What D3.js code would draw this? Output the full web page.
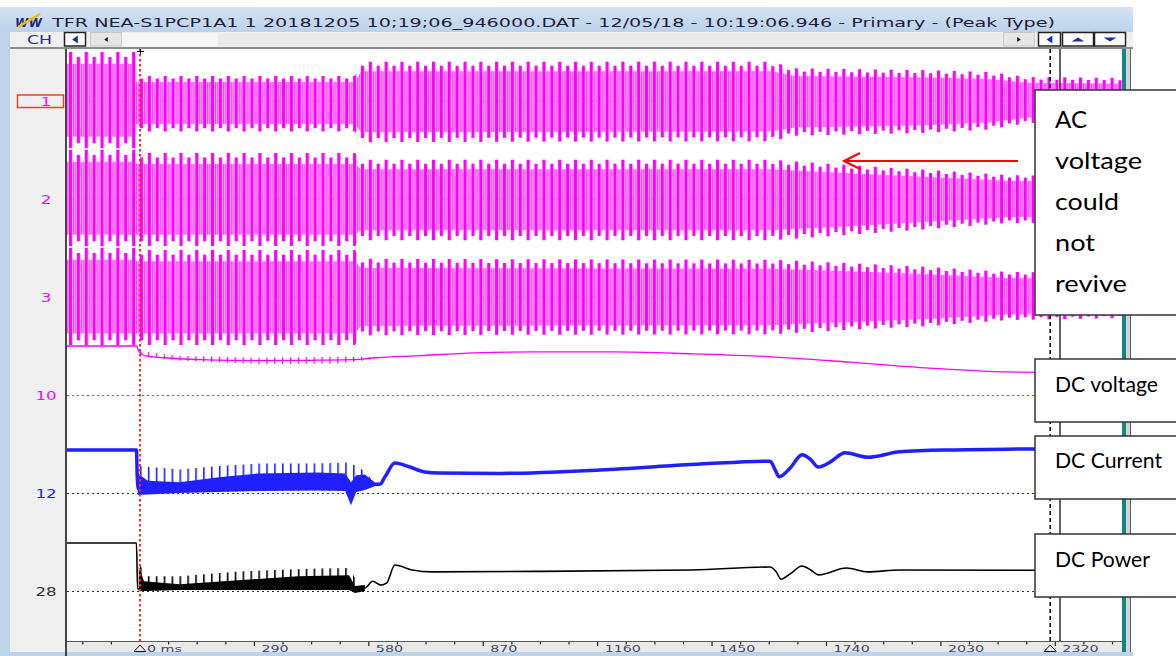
<!DOCTYPE html>
<html><head><meta charset="utf-8">
<script src="https://cdn.jsdelivr.net/npm/d3@7"></script>
<style>html,body{margin:0;padding:0;background:#fff;}svg{display:block;}</style>
</head><body>
<svg id="c" width="1176" height="656"></svg>
<script>
// ---------------- data ----------------
const titleText = "TFR NEA-S1PCP1A1 1 20181205 10;19;06_946000.DAT - 12/05/18 - 10:19:06.946 - Primary - (Peak Type)";
const channelLabels = ["1", "2", "3", "10", "12", "28"];
const channelColors = ["#ff00ff", "#ff00ff", "#ff00ff", "#ff00ff", "#1f1fff", "#333333"];
const timeLabels = [0, 290, 580, 870, 1160, 1450, 1740, 2030, 2320];
const timeMin = -185, timeMax = 2489, minorStep = 72.5;

// AC phase voltages, peak envelope: [ms, upper (pu), lower (pu)]
const acPhase1 = [[-185, 1.0, -0.96], [-10, 1.0, -0.96], [-9, 0.51, -0.62], [545, 0.51, -0.62], [560, 0.80, -0.84],
  [1600, 0.80, -0.82], [1660, 0.67, -0.71], [2000, 0.63, -0.65], [2150, 0.59, -0.58], [2250, 0.49, -0.45], [2489, 0.47, -0.43]];
const acPhase2 = [[-185, 1.0, -0.96], [-10, 1.0, -0.96], [-9, 0.94, -0.96], [545, 0.94, -0.96], [560, 0.80, -0.84],
  [1600, 0.80, -0.84], [1800, 0.69, -0.73], [2000, 0.59, -0.61], [2200, 0.49, -0.49], [2489, 0.45, -0.47]];
const acPhase3 = [[-185, 1.0, -0.98], [-10, 1.0, -0.98], [-9, 0.96, -0.98], [545, 0.96, -0.98], [560, 0.78, -0.78],
  [1600, 0.76, -0.76], [1800, 0.69, -0.67], [2000, 0.61, -0.59], [2200, 0.51, -0.47], [2489, 0.49, -0.43]];

// DC voltage: trace [ms, pu] and ripple band [ms, hi, lo]
const dcVoltage = [[-185, 1.0], [-9, 1.0], [-2, 0.88], [15, 0.80], [60, 0.76], [150, 0.72], [300, 0.70], [450, 0.71],
  [540, 0.72], [600, 0.76], [700, 0.80], [850, 0.86], [1000, 0.88], [1200, 0.88], [1400, 0.84], [1600, 0.78],
  [1800, 0.67], [2000, 0.55], [2200, 0.47], [2489, 0.45]];
const dcVoltageRipple = [[-2, 0.90, 0.80], [100, 0.80, 0.70], [300, 0.76, 0.63], [500, 0.78, 0.64], [560, 0.78, 0.70], [600, 0.77, 0.75]];

// DC current
const dcCurrent = [[-185, 0.88], [-9, 0.88], [-6, 0.10], [10, 0.08], [60, 0.12], [150, 0.16], [300, 0.20], [450, 0.20],
  [520, 0.18], [550, 0.14], [583, 0.18], [608, 0.18], [621, 0.33], [646, 0.61], [684, 0.53], [722, 0.43], [760, 0.41],
  [912, 0.40], [1166, 0.47], [1420, 0.59], [1597, 0.65], [1610, 0.47], [1620, 0.33], [1648, 0.51], [1678, 0.78],
  [1699, 0.69], [1719, 0.53], [1749, 0.63], [1787, 0.82], [1845, 0.73], [1926, 0.84], [2053, 0.88], [2266, 0.90], [2489, 0.92]];
const dcCurrentBand = [[-6, 0.40, -0.04], [20, 0.25, -0.03], [100, 0.22, 0.0], [200, 0.32, 0.02], [300, 0.40, 0.04],
  [450, 0.42, 0.05], [520, 0.40, 0.04], [535, 0.22, -0.25], [548, 0.36, 0.02], [570, 0.38, 0.06], [595, 0.22, 0.14]];
const dcCurrentSpikes = [[0, 0.55, 0.0], [100, 0.48, 0.0], [200, 0.55, 0.02], [300, 0.60, 0.04], [450, 0.60, 0.05],
  [530, 0.62, 0.04], [560, 0.50, 0.06], [585, 0.30, 0.12]];

// DC power
const dcPower = [[-185, 0.98], [-9, 0.98], [-6, 0.04], [0, 0.04], [20, 0.10], [100, 0.08], [300, 0.12], [500, 0.13],
  [540, 0.08], [570, 0.06], [590, 0.20], [610, 0.12], [625, 0.16], [646, 0.53], [690, 0.43], [740, 0.39], [1000, 0.40],
  [1400, 0.43], [1597, 0.49], [1612, 0.40], [1625, 0.24], [1648, 0.35], [1678, 0.51], [1700, 0.43], [1720, 0.33],
  [1790, 0.47], [1845, 0.39], [1926, 0.43], [2489, 0.42]];
const dcPowerBand = [[-3, 0.50, 0.0], [10, 0.20, 0.0], [100, 0.14, 0.02], [250, 0.22, 0.02], [400, 0.30, 0.02],
  [530, 0.32, 0.02], [545, 0.10, -0.04], [570, 0.12, 0.0]];
const dcPowerSpikes = [[0, 0.52, 0.0], [20, 0.30, 0.0], [100, 0.30, 0.02], [250, 0.40, 0.02], [450, 0.46, 0.02],
  [530, 0.47, 0.02], [550, 0.20, 0.0]];

const cursorTime = 2307;
const noteAC = ["AC", "voltage", "could", "not", "revive"];
const noteDC = ["DC voltage", "DC Current", "DC Power"];

// ---------------- layout ----------------
const svg = d3.select("#c");
const P = {l: 67, r: 1122, t: 49, b: 641};
const x = d3.scaleLinear().domain([timeMin, timeMax]).range([P.l, P.r]);
const slot = d3.scaleLinear().domain([0, 5]).range([101, 591]);
const chanY = i => d3.scaleLinear().domain([-1, 1]).range([slot(i) + 49, slot(i) - 49]);
const period = x(20) - x(0); // one 50 Hz cycle in pixels

const defs = svg.append("defs");
const grad = defs.append("linearGradient").attr("id", "tb").attr("x1", 0).attr("y1", 0).attr("x2", 0).attr("y2", 1);
grad.append("stop").attr("offset", 0).attr("stop-color", "#d3e3f4");
grad.append("stop").attr("offset", 1).attr("stop-color", "#bcd2ea");
defs.append("clipPath").attr("id", "plotClip").append("rect")
  .attr("x", P.l).attr("y", P.t).attr("width", P.r - P.l).attr("height", P.b - P.t);

const off = x(0) % period;
function pattern(id, w) {
  return defs.append("pattern").attr("id", id).attr("patternUnits", "userSpaceOnUse")
    .attr("x", off).attr("y", 0).attr("width", w).attr("height", 20);
}
// peak-type bars for the AC channels: alternate cycles peak slightly differently
pattern("acSolidA", 2 * period).append("rect").attr("x", 0).attr("y", 0).attr("width", 3.2).attr("height", 20).attr("fill", "#ff00ff");
pattern("acSolidB", 2 * period).append("rect").attr("x", period).attr("y", 0).attr("width", 3.2).attr("height", 20).attr("fill", "#ff00ff");
const pH = pattern("acHollow", period);
pH.append("rect").attr("x", 4.2).attr("y", 0).attr("width", 3.0).attr("height", 20).attr("fill", "#ffb4ff");
pH.append("rect").attr("x", 4.2).attr("y", 0).attr("width", 0.9).attr("height", 20).attr("fill", "#ff00ff");
pH.append("rect").attr("x", 6.4).attr("y", 0).attr("width", 0.9).attr("height", 20).attr("fill", "#ff00ff");
function stripe(id, color, w) {
  pattern(id, period).append("rect").attr("x", 0).attr("y", 0).attr("width", w).attr("height", 20).attr("fill", color);
}
stripe("stMag", "#ff00ff", 1.3);
stripe("stBlue", "#1f1fff", 1.6);
stripe("stBlack", "#000", 1.6);

// ---------------- window chrome ----------------
svg.append("rect").attr("width", 1176).attr("height", 656).attr("fill", "#fff");
svg.append("rect").attr("x", 0).attr("y", 7).attr("width", 1133).attr("height", 25).attr("fill", "url(#tb)");
svg.append("rect").attr("x", 0).attr("y", 32).attr("width", 10).attr("height", 624).attr("fill", "#bcd3ea");
svg.append("rect").attr("x", 0).attr("y", 652).attr("width", 1133).attr("height", 4).attr("fill", "#bcd3ea");
svg.append("rect").attr("x", 10).attr("y", 32).attr("width", 1123).attr("height", 15).attr("fill", "#f0f0f0");
svg.append("rect").attr("x", 10).attr("y", 47).attr("width", 1123).attr("height", 2).attr("fill", "#8c8c8c");
svg.append("rect").attr("x", 10).attr("y", 49).attr("width", 56).attr("height", 603).attr("fill", "#f0f0f0");

// title bar
const icon = svg.append("g");
icon.append("text").attr("x", 15).attr("y", 27).attr("font-family", "DejaVu Sans").attr("font-weight", "bold")
  .attr("font-style", "italic").attr("font-size", 12).attr("fill", "#1a2a8a").attr("textLength", 27).text("WW");
icon.append("line").attr("x1", 18).attr("y1", 27).attr("x2", 40).attr("y2", 14).attr("stroke", "#f0c000").attr("stroke-width", 2.5);
svg.append("text").attr("x", 52).attr("y", 26.5).attr("font-family", "DejaVu Sans").attr("font-size", 12.5)
  .attr("fill", "#1e1e3a").attr("textLength", 1003).attr("lengthAdjust", "spacingAndGlyphs").text(titleText);

// toolbar
svg.append("text").attr("x", 27).attr("y", 44).attr("font-family", "DejaVu Sans").attr("font-size", 12)
  .attr("fill", "#2a2aa8").attr("textLength", 25).attr("lengthAdjust", "spacingAndGlyphs").text("CH");
svg.append("rect").attr("x", 122).attr("y", 33).attr("width", 880).attr("height", 13).attr("fill", "#ebebeb");
svg.append("rect").attr("x", 122).attr("y", 33).attr("width", 96).attr("height", 13).attr("fill", "#f6f6f6");
function btn(x0, w, boxed, dir, col) {
  svg.append("rect").attr("x", x0 + 0.5).attr("y", 32.5).attr("width", w).attr("height", 13.5)
    .attr("fill", boxed ? "#fdfdfd" : "#e6e6e6").attr("stroke", boxed ? "#222" : "#c8c8c8").attr("stroke-width", boxed ? 1.5 : 1);
  const cx = x0 + w / 2 + 0.5, cy = 39.5, s = boxed ? 4 : 2.5;
  let pts;
  if (dir === "l") pts = [[cx + s * 0.7, cy - s], [cx + s * 0.7, cy + s], [cx - s * 0.7, cy]];
  if (dir === "r") pts = [[cx - s * 0.7, cy - s], [cx - s * 0.7, cy + s], [cx + s * 0.7, cy]];
  if (dir === "u") pts = [[cx - s * 1.6, cy + 2], [cx + s * 1.6, cy + 2], [cx, cy - 2]];
  if (dir === "d") pts = [[cx - s * 1.6, cy - 2], [cx + s * 1.6, cy - 2], [cx, cy + 2]];
  svg.append("polygon").attr("points", pts.map(p => p.join(",")).join(" ")).attr("fill", col);
}
btn(64, 21, true, "l", "#1a2ab0");
btn(90, 31, false, "l", "#111");
btn(1003, 31, false, "r", "#111");
btn(1038, 22, true, "l", "#1a2ab0");
btn(1062, 31, true, "u", "#1a2ab0");
btn(1094, 31, true, "d", "#1a2ab0");

// plot background and frame
svg.append("rect").attr("x", P.l).attr("y", P.t).attr("width", P.r - P.l).attr("height", P.b - P.t).attr("fill", "#fff");
svg.append("rect").attr("x", P.l).attr("y", P.b).attr("width", P.r - P.l).attr("height", 11).attr("fill", "#e9e9e9");
svg.append("line").attr("x1", P.l).attr("x2", P.r).attr("y1", P.b + 0.5).attr("y2", P.b + 0.5).attr("stroke", "#5a5a5a");
svg.append("line").attr("x1", 66).attr("x2", 66).attr("y1", P.t).attr("y2", 656).attr("stroke", "#1a1a1a").attr("stroke-width", 1.6);
svg.append("rect").attr("x", 1122).attr("y", P.t).attr("width", 4).attr("height", 603).attr("fill", "#138585");
svg.append("rect").attr("x", 1126).attr("y", P.t).attr("width", 4).attr("height", 603).attr("fill", "#d4d4d4");
svg.append("line").attr("x1", 1130.5).attr("x2", 1130.5).attr("y1", P.t).attr("y2", 652).attr("stroke", "#606060");

// channel labels
const lab = svg.append("g");
channelLabels.forEach((t, i) => {
  lab.append("text").attr("transform", `translate(46,${slot(i) + 5}) scale(1.45,1)`).attr("text-anchor", "middle")
    .attr("font-family", "DejaVu Sans").attr("font-size", 11.5).attr("fill", channelColors[i]).text(t);
});
lab.append("rect").attr("x", 17.5).attr("y", 95).attr("width", 46).attr("height", 12.5).attr("fill", "none")
  .attr("stroke", "#e4462a").attr("stroke-width", 1.5);

// ---------------- traces ----------------
const plot = svg.append("g").attr("clip-path", "url(#plotClip)");

// channel reference lines
[0, 1, 2].forEach(i => plot.append("line").attr("x1", P.l).attr("x2", P.r).attr("y1", slot(i)).attr("y2", slot(i))
  .attr("stroke", "#ff80ff").attr("stroke-dasharray", "2,3"));
[3, 4, 5].forEach(i => plot.append("line").attr("x1", P.l).attr("x2", P.r).attr("y1", slot(i) + 0.5).attr("y2", slot(i) + 0.5)
  .attr("stroke", channelColors[i]).attr("stroke-dasharray", "2,3"));

// AC channels: full-peak cycles, slightly lower alternate cycles, and hollow in-between strokes
[acPhase1, acPhase2, acPhase3].forEach((env, i) => {
  const y = chanY(i);
  const band = k => d3.area().x(d => x(d[0])).y1(d => y(d[1] * k)).y0(d => y(d[2] * k));
  plot.append("path").attr("d", band(1)(env)).attr("fill", "url(#acSolidA)");
  plot.append("path").attr("d", band(0.9)(env)).attr("fill", "url(#acSolidB)");
  plot.append("path").attr("d", band(0.76)(env)).attr("fill", "url(#acHollow)");
});

// DC channels
function dcTrace(i, line, band, spikes, color, stripeId, width) {
  const y = chanY(i);
  const ar = d3.area().x(d => x(d[0])).y1(d => y(d[1])).y0(d => y(d[2]));
  if (spikes) plot.append("path").attr("d", ar(spikes)).attr("fill", `url(#${stripeId})`);
  if (band) plot.append("path").attr("d", ar(band)).attr("fill", color);
  plot.append("path").attr("d", d3.line().x(d => x(d[0])).y(d => y(d[1])).curve(d3.curveMonotoneX)(line))
    .attr("fill", "none").attr("stroke", color).attr("stroke-width", width).attr("stroke-linejoin", "round");
}
dcTrace(3, dcVoltage, null, dcVoltageRipple, "#ff00ff", "stMag", 1.3);
dcTrace(4, dcCurrent, dcCurrentBand, dcCurrentSpikes, "#1f1fff", "stBlue", 3.5);
dcTrace(5, dcPower, dcPowerBand, dcPowerSpikes, "#000000", "stBlack", 1.6);

// cursors
plot.append("line").attr("x1", x(0)).attr("x2", x(0)).attr("y1", P.t).attr("y2", P.b)
  .attr("stroke", "#ff2a2a").attr("stroke-width", 2).attr("stroke-dasharray", "2.5,2.5");
plot.append("path").attr("d", `M${x(0) - 3},${P.t + 2.5}H${x(0) + 4}M${x(0) + 0.5},${P.t}V${P.t + 5}`)
  .attr("stroke", "#000").attr("stroke-width", 1);
plot.append("line").attr("x1", x(cursorTime)).attr("x2", x(cursorTime)).attr("y1", P.t).attr("y2", P.b + 8)
  .attr("stroke", "#111").attr("stroke-width", 1.6).attr("stroke-dasharray", "4,3");
plot.append("line").attr("x1", 1060).attr("x2", 1060).attr("y1", P.t).attr("y2", P.b)
  .attr("stroke", "#3a3a3a").attr("stroke-width", 1.6);

// ---------------- time axis ----------------
const ax = svg.append("g");
d3.range(-145, timeMax, minorStep).forEach(t => {
  const major = Math.abs(t % 290) < 1e-6;
  if (Math.abs(t) < 1e-6) return;
  ax.append("line").attr("x1", x(t)).attr("x2", x(t)).attr("y1", P.b + 1).attr("y2", P.b + (major ? 5 : 3.5))
    .attr("stroke", "#222").attr("stroke-width", 1.2);
});
timeLabels.forEach(t => {
  ax.append("text").attr("transform", `translate(${x(t) + 7},${P.b + 10.5}) scale(1.5,1)`)
    .attr("font-family", "DejaVu Sans").attr("font-size", 9.5).attr("fill", "#3c4866")
    .text(t === 0 ? "0 ms" : t);
});
[0, cursorTime].forEach(t => {
  ax.append("path").attr("d", `M${x(t) - 6},${P.b + 10.5}L${x(t)},${P.b + 4}L${x(t) + 6},${P.b + 10.5}Z`)
    .attr("fill", "none").attr("stroke", "#111").attr("stroke-width", 1);
});

// ---------------- annotations ----------------
const note = svg.append("g").attr("font-family", "Lato, 'Open Sans', sans-serif").attr("fill", "#000");
note.append("rect").attr("x", 1035).attr("y", 90).attr("width", 160).attr("height", 225)
  .attr("fill", "#fff").attr("stroke", "#333").attr("stroke-width", 1.5);
const acW = [32, 87, 64, 40, 72];
noteAC.forEach((t, i) => note.append("text").attr("x", 1055).attr("y", 128 + i * 41).attr("font-size", 24)
  .attr("textLength", acW[i]).attr("lengthAdjust", "spacingAndGlyphs").text(t));
const dcBox = [[359, 392, 103], [436, 468, 107], [534, 567, 95]];
noteDC.forEach((t, i) => {
  const [top, base, w] = dcBox[i];
  note.append("rect").attr("x", 1035).attr("y", top).attr("width", 160).attr("height", 63)
    .attr("fill", "#fff").attr("stroke", "#333").attr("stroke-width", 1.5);
  note.append("text").attr("x", 1055).attr("y", base).attr("font-size", 21.5)
    .attr("textLength", w).attr("lengthAdjust", "spacingAndGlyphs").text(t);
});
// arrow pointing at the AC traces
svg.append("line").attr("x1", 1018).attr("x2", 845).attr("y1", 161).attr("y2", 161).attr("stroke", "#ff0000").attr("stroke-width", 2);
svg.append("polyline").attr("points", "860,153 844,161 860,169").attr("fill", "none").attr("stroke", "#ff0000").attr("stroke-width", 2);
</script>
</body></html>
